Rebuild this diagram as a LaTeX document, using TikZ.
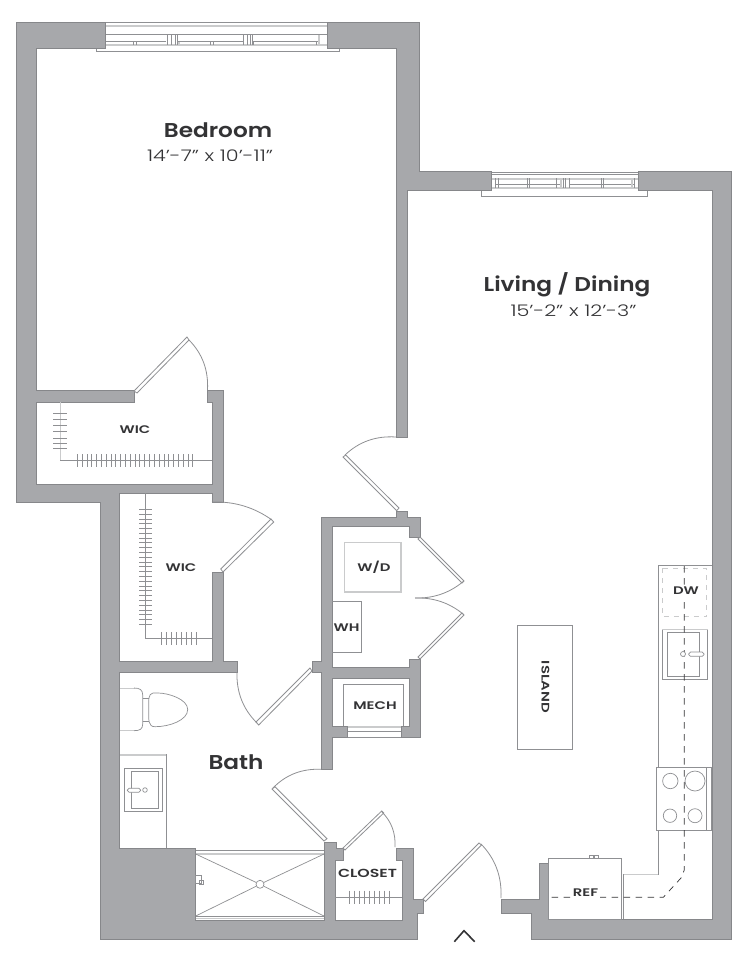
\documentclass[tikz,border=0pt]{standalone}
\usepackage{fontspec}
\usetikzlibrary{calc}
\newfontfamily\labf[FakeStretch=1.16,UprightFont=* SemiBold]{Poppins}
\newfontfamily\subf[FakeStretch=1.3,UprightFont=* Light]{Poppins}
\newfontfamily\smf[FakeStretch=1.35,UprightFont=* SemiBold]{Poppins}
\definecolor{wall}{HTML}{A7A8AB}
\definecolor{edge}{HTML}{86878A}
\definecolor{fix}{HTML}{8F9093}
\definecolor{pale}{HTML}{CACBCC}
\definecolor{ink}{HTML}{333335}
\tikzset{
  wallp/.style={fill=wall,draw=edge,line width=0.7pt,line join=miter},
  fixt/.style={draw=fix,line width=0.9pt},
  thin fix/.style={draw=fix,line width=0.7pt},
  palel/.style={draw=pale,line width=2pt},
  leaf/.style={fill=white,draw=fix,line width=0.8pt},
  swing/.style={draw=fix,line width=0.8pt},
  hanger/.style={draw=fix,line width=0.7pt},
  rm/.style={font=\labf\fontsize{20}{20}\selectfont,text=ink,inner sep=0pt},
  dim/.style={font=\subf\fontsize{16}{16}\selectfont,text=ink,inner sep=0pt},
  tag/.style={font=\smf\fontsize{11}{11}\selectfont,text=ink,inner sep=0pt},
  dashk/.style={draw=ink,line width=0.7pt,dash pattern=on 6.5pt off 5.5pt}
}
% hinge H, arc start A, arc end B: a 45-degree arc about the hinge
\newcommand{\swingarc}[3]{\draw[swing] (#2) .. controls ($0.7238*(#2)+0.3905*(#3)-0.1143*(#1)$) and ($0.7238*(#3)+0.3905*(#2)-0.1143*(#1)$) .. (#3);}
\begin{document}
\begin{tikzpicture}[x=1pt,y=-1pt]
\useasboundingbox (0,0) rectangle (749,964);
\fill[white] (0,0) rectangle (749,964);

% === windows ===
\draw[thin fix] (96,48) -- (96,51) -- (339,51) -- (339,48);
\draw[palel] (105,25.5) -- (327,25.5);
\draw[palel] (105,45) -- (327,45);
\draw[thin fix] (105,22.7) -- (327,22.7);
\draw[thin fix] (105,34) -- (327,34);
\draw[thin fix] (105,41.7) -- (166,41.7) (177,41.7) -- (243,41.7) (252,41.7) -- (320,41.7);
\foreach \x in {167,171,175,177,243,247,250,252}{\draw[thin fix] (\x,34) -- (\x,45);}
\foreach \x in {133,136,210,213,167,177,243,253,316,319}{\draw[thin fix] (\x,41.7) -- (\x,45);}
\draw[palel,line width=1.5pt] (179,42) -- (179,45) (319,35) -- (319,45);

\draw[thin fix] (481,190) -- (481,196) -- (647.5,196) -- (647.5,190);
\draw[palel] (491,179) -- (638,179);
\draw[palel] (491,188) -- (638,188);
\draw[thin fix] (491,172) -- (638,172);
\draw[thin fix] (491,174.5) -- (638,174.5);
\draw[thin fix] (496,184) -- (560,184) (570,184) -- (634,184);
\foreach \x in {495.5,498,527,529,556,560,563.5,565.5,569,601,603,631,634.5}{\draw[thin fix] (\x,178) -- (\x,188);}
\draw[palel,line width=1.5pt] (561,178) -- (561,188) (632,178) -- (632,188);

% === mech door ===
\draw[palel] (347,727) -- (401,727);
\draw[thin fix] (347,731.7) -- (401,731.7);
\draw[thin fix] (347,737) -- (401,737);

% === walls ===
\draw[wallp] (327,22) -- (419,22) -- (419,171) -- (491,171) -- (491,190) -- (407,190) -- (407,437) -- (396,437) -- (396,48) -- (327,48) -- cycle;
\draw[wallp] (638,171) -- (731,171) -- (731,939) -- (531,939) -- (531,913) -- (501,913) -- (501,899) -- (539,899) -- (539,863) -- (548,863) -- (548,919) -- (712,919) -- (712,190) -- (638,190) -- cycle;
\draw[wallp] (105.5,22) -- (105.5,48) -- (36,48) -- (36,390) -- (134,390) -- (134,402) -- (36,402) -- (36,484) -- (212,484) -- (212,402) -- (207,402) -- (207,390) -- (223.5,390) -- (223.5,502) -- (212,502) -- (212,493) -- (119.5,493) -- (119.5,661) -- (212,661) -- (212,572) -- (223.5,572) -- (223.5,661) -- (237,661) -- (237,672) -- (119.5,672) -- (119.5,848) -- (195.7,848) -- (195.7,920) -- (324,920) -- (324,842) -- (336,842) -- (336,848) -- (343,848) -- (343,860) -- (335,860) -- (335,920) -- (402,920) -- (402,860) -- (396,860) -- (396,848) -- (413,848) -- (413,899) -- (423,899) -- (423,913) -- (417,913) -- (417,939) -- (100,939) -- (100,502) -- (16,502) -- (16,22) -- cycle;
\draw[wallp] (312,661) -- (321,661) -- (321,517) -- (396,517) -- (396,511) -- (407,511) -- (407,517) -- (420,517) -- (420,537) -- (409,537) -- (409,526) -- (332,526) -- (332,667) -- (409,667) -- (409,659) -- (420,659) -- (420,737) -- (401,737) -- (401,726) -- (409,726) -- (409,678) -- (332,678) -- (332,726) -- (347,726) -- (347,737) -- (332,737) -- (332,769) -- (321,769) -- (321,672) -- (312,672) -- cycle;

% === door leaves and swings ===
\draw[leaf] (134,391) -- (187,337) -- (189,340) -- (137,393) -- cycle;
\swingarc{135,392}{189,340}{207.5,390}
\draw[leaf] (220.7,569) -- (271,519) -- (273.7,522) -- (223,572) -- cycle;
\swingarc{222,570}{212,502}{272,520}
\draw[leaf] (310,668) -- (256,722) -- (258.7,725) -- (312,671) -- cycle;
\swingarc{311,670}{237,672}{257,723}
\draw[leaf] (399,508) -- (345.7,455) -- (343,457) -- (396.7,510.7) -- cycle;
\swingarc{397,510}{396,437}{345,455}
\draw[leaf] (420,537) -- (464,581) -- (462,583) -- (418,539) -- cycle;
\swingarc{419,538}{463,581.7}{415,598}
\draw[leaf] (420,659) -- (464,615) -- (462,613) -- (418,657) -- cycle;
\swingarc{419,658}{463,614}{415,598}
\draw[leaf] (327,838.7) -- (275,786.7) -- (272,789) -- (324,841) -- cycle;
\swingarc{325,840}{321,769.3}{273,788}
\draw[leaf] (343,848) -- (381.7,811) -- (383.7,813) -- (345,850) -- cycle;
\swingarc{344,849}{382,812}{395,847}
\draw[leaf] (423,899) -- (479,843) -- (481.5,845) -- (425.5,901.5) -- cycle;
\swingarc{424,900}{481,844}{501,898}

% === closet rods ===
\draw[palel,line width=1pt] (60,402) -- (60,460);
\draw[hanger] (60,460) -- (212,460);
\foreach \y in {413,419,425.5,431.5,438,443.5,448}{\draw[hanger] (53,\y) -- (67,\y);}
\foreach \i in {0,...,24}{\draw[hanger] ({77.3+\i*4.81},454) -- ({77.3+\i*4.81},467);}
\draw[hanger] (145.7,493) -- (145.7,638) -- (212,638);
\foreach \i in {0,...,24}{\draw[hanger] (139,{509.3+\i*4.79}) -- (152.3,{509.3+\i*4.79});}
\foreach \i in {0,...,7}{\draw[hanger] ({161.3+\i*5.06},632) -- ({161.3+\i*5.06},645);}
\draw[hanger] (335,897.3) -- (402,897.3);
\foreach \i in {0,...,8}{\draw[hanger] ({349.3+\i*5},890.7) -- ({349.3+\i*5},904);}

% === toilet ===
\draw[palel,line width=1pt] (120,688) -- (135,688) (120,730.7) -- (135,730.7);
\draw[thin fix] (134,688) .. controls (140,688) and (142.7,690) .. (142.7,695) -- (142.7,724) .. controls (142.7,729) and (140,730.7) .. (134,730.7);
\draw[thin fix] (142.7,698) -- (148.7,698) (142.7,721.7) -- (148.7,721.7);
\draw[thin fix] (153,693) .. controls (148,694) and (148.7,700) .. (148.7,709.5) .. controls (148.7,720) and (148,726.7) .. (155,726.7) .. controls (170,726.7) and (187.7,720) .. (187.7,709.5) .. controls (187.7,699) and (168,693) .. (158,693) -- (153,693);

% === vanity ===
\draw[palel] (120,755) -- (166.7,755);
\draw[thin fix] (166.7,754) -- (166.7,848);
\draw[thin fix] (124.3,768.7) rectangle (162.7,811.3);
\draw[thin fix] (131.3,771.3) rectangle (158.7,808.3);
\draw[thin fix,fill=white,rounded corners=1.8pt] (127.3,788.3) rectangle (140.7,792.3);
\draw[thin fix,fill=white] (145,790) circle (2.3);

% === shower ===
\draw[thin fix] (195.7,850.7) -- (324,850.7);
\draw[palel] (195.7,854) -- (324,854);
\draw[thin fix] (195.7,916) -- (324,916);
\draw[palel,line width=1pt] (195.7,918.5) -- (324,918.5);
\draw[thin fix] (195.7,854) -- (256.3,882.5) (324,854) -- (263.7,882.5) (195.7,916) -- (256.3,886.2) (324,916) -- (263.7,886.2);
\draw[thin fix] (260,884.3) circle (4);
\draw[thin fix] (195.7,875) rectangle (201,883);
\draw[thin fix] (199.3,880.7) rectangle (203.3,884.7);

% === appliances ===
\draw[draw=pale,line width=1.1pt] (344.3,542.7) rectangle (401,592);
\draw[thin fix] (332,601.3) -- (361.3,601.3) -- (361.3,652.3) -- (332,652.3);
\draw[thin fix] (343.3,725.7) -- (343.3,684.3) -- (403.3,684.3) -- (403.3,725.7);
\draw[thin fix] (517,625) rectangle (572,749);

% === kitchen ===
\draw[thin fix] (712,565.3) -- (658.5,565.3) -- (658.5,767);
\draw[thin fix] (658.5,830.3) -- (658.5,874) -- (624,874);
\draw[palel,line width=1pt] (658,874.5) -- (624,874.5);
\draw[thin fix] (623.3,874) -- (623.3,919);
\draw[thin fix] (589.3,855.7) rectangle (593,858.3) (594.5,855.7) rectangle (598,858.3);
\draw[thin fix,fill=white] (548.3,858.3) rectangle (621.7,919.3);
\draw[draw=pale,line width=0.8pt,dash pattern=on 5pt off 5pt] (662.3,568.3) rectangle (706.7,616.7);
\draw[thin fix] (662.3,629) rectangle (707.7,679.3);
\draw[palel,line width=1pt] (662.3,629) -- (707.7,629);
\draw[thin fix] (667.3,632) rectangle (699.7,676.7);
\draw[thin fix,fill=white] (656.3,767.3) rectangle (711.3,830.3);
\draw[thin fix] (706.3,767.3) -- (706.3,830.3);
\draw[thin fix] (670.3,781) circle (7.7) (695,781) circle (10) (670,815.7) circle (6.7) (695,815.7) circle (7);

% dashed overhead line
\draw[dashk] (684.3,566) -- (684.3,870) -- (681,878) -- (663.3,897.3) -- (548.3,897.3);
\draw[thin fix,fill=white] (683,654) circle (2.5);
\draw[thin fix,fill=white,rounded corners=1.8pt] (688.7,652) rectangle (704,656.3);

% === labels ===
\node[rm] (bedroom) at (218,130) {Bedroom};
\node[dim] (bedroomdim) at (210,156) {14’-7” x 10’-11”};
\node[rm] (living) at (567,285) {Living / Dining};
\node[dim] (livingdim) at (573.5,310.5) {15’-2” x 12’-3”};
\node[rm] (bath) at (236,762) {Bath};
\node[tag] (wic1) at (135,430) {WIC};
\node[tag] (wic2) at (181,567.5) {WIC};
\node[tag] (wd) at (374,567.5) {W/D};
\node[tag] (wh) at (346.5,628) {WH};
\node[tag] (mech) at (375,705.5) {MECH};
\node[tag,font=\smf\fontsize{11.7}{11.7}\selectfont] (closet) at (367.5,873.5) {CLOSET};
\node[tag,fill=white,inner xsep=1pt,inner ysep=2pt] (dw) at (686,591) {DW};
\node[tag,rotate=-90] (island) at (545.5,687) {ISLAND};
\node[tag,fill=white,inner xsep=2pt,inner ysep=1pt] (ref) at (585.5,893) {REF};

% entry mark
\draw[draw=ink,line width=1.6pt] (454.3,941.7) -- (464,930.7) -- (474.7,941.7);
\end{tikzpicture}
\end{document}
